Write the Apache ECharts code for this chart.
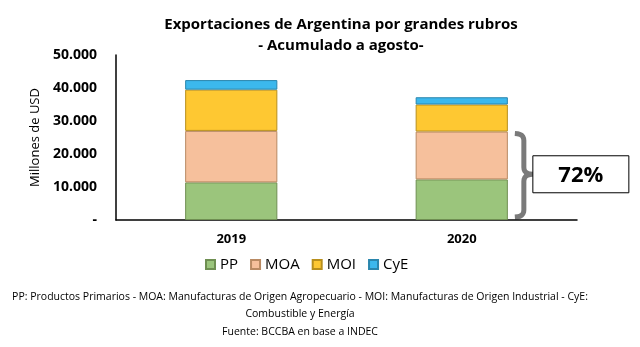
<!DOCTYPE html>
<html>
<head>
<meta charset="utf-8">
<script src="https://cdn.jsdelivr.net/npm/echarts@6/dist/echarts.min.js"></script>
<style>
  html, body { margin: 0; padding: 0; background: #ffffff; }
  #chart { width: 640px; height: 347px; }
</style>
</head>
<body>
<div id="chart"></div>
<script>
// Exports by major category, Jan–Aug accumulated (millions of USD)
const years = ['2019', '2020'];
const seriesNames = ['PP', 'MOA', 'MOI', 'CyE'];
const pp  = [11400, 12300];
const moa = [15600, 14500];
const moi = [12500, 8200];
const cye = [2900, 2200];
const yTickMin = 0;
const yTickMax = 50000;
const yTickStep = 10000;
const footnotes = [
  'PP: Productos Primarios - MOA: Manufacturas de Origen Agropecuario - MOI: Manufacturas de Origen Industrial - CyE:',
  'Combustible y Energía',
  'Fuente: BCCBA en base a INDEC'
];

const FONT = "'Open Sans', 'Noto Sans', sans-serif";
const colors = ['#9bc57c', '#f6c09c', '#fec832', '#3cb8ed'];
const borders = ['#6f8f52', '#b98a63', '#b88f1c', '#2a86ad'];
const seriesData = [pp, moa, moi, cye];

function fmtThousands(v) {
  if (v === 0) return '-';
  return String(v).replace(/\B(?=(\d{3})+(?!\d))/g, '.');
}

// Points along a quadratic Bézier, used to round the bracket corners
function quad(p0, p1, p2, n) {
  const pts = [];
  for (let k = 1; k <= n; k++) {
    const t = k / n, u = 1 - t;
    pts.push([u * u * p0[0] + 2 * u * t * p1[0] + t * t * p2[0],
              u * u * p0[1] + 2 * u * t * p1[1] + t * t * p2[1]]);
  }
  return pts;
}

const chart = echarts.init(document.getElementById('chart'), null, { renderer: 'canvas' });

const footGraphics = footnotes.map((t, i) => ({
  type: 'text',
  x: 300,
  y: 297 + i * 17.5,
  style: {
    text: t,
    fontFamily: FONT,
    fontSize: 10.5,
    fill: '#000000',
    textAlign: 'center',
    textVerticalAlign: 'middle'
  }
}));

const option = {
  backgroundColor: '#ffffff',
  animation: false,
  color: colors,
  title: {
    text: 'Exportaciones de Argentina por grandes rubros\n- Acumulado a agosto-',
    left: 336,
    top: 9,
    textAlign: 'center',
    textStyle: {
      fontFamily: FONT,
      fontWeight: 'bold',
      fontSize: 15,
      lineHeight: 21,
      color: '#000000'
    }
  },
  legend: {
    left: 200,
    top: 252,
    itemWidth: 9,
    itemHeight: 9,
    itemGap: 12,
    icon: 'rect',
    data: seriesNames,
    textStyle: { fontFamily: FONT, fontSize: 15, color: '#000000' }
  },
  grid: { left: 116, right: 63, top: 55, bottom: 127, containLabel: false },
  xAxis: {
    type: 'category',
    data: years,
    axisLine: { lineStyle: { color: '#000000', width: 1.5 } },
    axisTick: { show: false },
    axisLabel: { fontFamily: FONT, fontWeight: 'bold', fontSize: 13, color: '#000000', margin: 13 }
  },
  yAxis: {
    type: 'value',
    min: yTickMin,
    max: yTickMax,
    interval: yTickStep,
    name: 'Millones de USD',
    nameLocation: 'middle',
    nameGap: 73,
    nameTextStyle: { fontFamily: FONT, fontSize: 13, color: '#000000' },
    axisLine: { show: true, lineStyle: { color: '#000000', width: 1.5 } },
    axisTick: { show: false },
    splitLine: { show: false },
    axisLabel: {
      fontFamily: FONT, fontWeight: 'bold', fontSize: 14, color: '#000000', margin: 19,
      formatter: fmtThousands
    }
  },
  series: seriesNames.map((name, i) => ({
    name: name,
    type: 'bar',
    stack: 'total',
    barWidth: '40%',
    data: seriesData[i],
    itemStyle: { color: colors[i], borderColor: borders[i], borderWidth: 1 }
  })),
  graphic: footGraphics
};

chart.setOption(option);

// Bracket and share box beside the 2020 bar (PP + MOA share of total)
(function drawShare() {
  const idx = 1;
  const total = pp[idx] + moa[idx] + moi[idx] + cye[idx];
  const part = pp[idx] + moa[idx];
  const share = Math.round(part / total * 100);
  const c0 = chart.convertToPixel({ xAxisIndex: 0, yAxisIndex: 0 }, [0, 0]);
  const c1 = chart.convertToPixel({ xAxisIndex: 0, yAxisIndex: 0 }, [idx, part]);
  const band = c1[0] - c0[0];
  const barRight = c1[0] + band * 0.2;
  const yTop = c1[1] + 2;
  const yBot = c0[1] - 3;
  const yMid = (yTop + yBot) / 2 - 1;
  const xa = barRight + 7, xv = barRight + 16, xt = barRight + 25;
  const r = 7;

  let pts = [[xa, yTop]];
  pts = pts.concat(quad([xa, yTop], [xv, yTop], [xv, yTop + r], 6));
  pts.push([xv, yMid - r]);
  pts = pts.concat(quad([xv, yMid - r], [xv, yMid], [xt, yMid], 6));
  pts = pts.concat(quad([xt, yMid], [xv, yMid], [xv, yMid + r], 6));
  pts.push([xv, yBot - r]);
  pts = pts.concat(quad([xv, yBot - r], [xv, yBot], [xa, yBot], 6));

  const boxW = 96, boxH = 37;
  chart.setOption({
    graphic: footGraphics.concat([
      {
        type: 'polyline',
        shape: { points: pts },
        style: { fill: null, stroke: '#7a7a7a', lineWidth: 5, lineCap: 'butt', lineJoin: 'round' }
      },
      {
        type: 'rect',
        shape: { x: xt, y: yMid - boxH / 2, width: boxW, height: boxH },
        style: { fill: '#ffffff', stroke: '#000000', lineWidth: 1 }
      },
      {
        type: 'text',
        x: xt + boxW / 2,
        y: yMid + 1,
        style: {
          text: share + '%',
          fontFamily: FONT,
          fontWeight: 'bold',
          fontSize: 22,
          fill: '#000000',
          textAlign: 'center',
          textVerticalAlign: 'middle'
        }
      }
    ])
  });
})();
</script>
</body>
</html>
